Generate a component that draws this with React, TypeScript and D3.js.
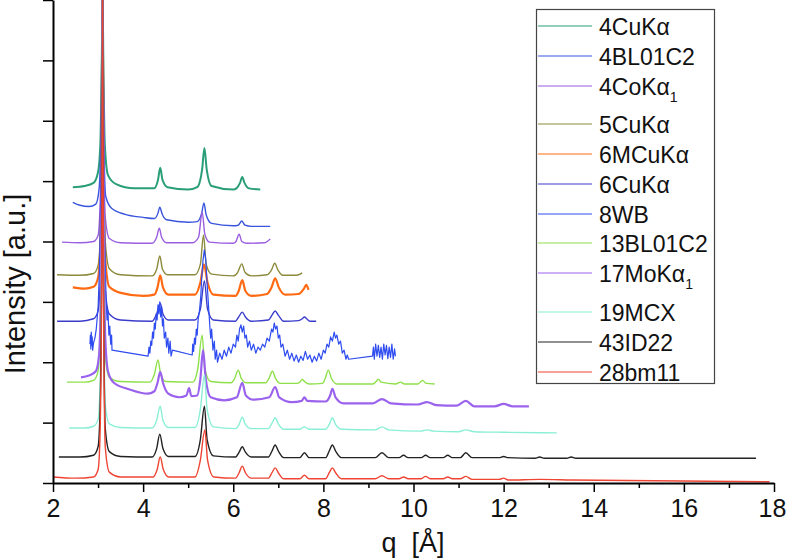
import React, { useEffect, useRef } from 'react';
import * as d3 from 'd3';

// q [Å] vs stacked intensity (1 unit = one y tick)
const cuKa4 = [
  [2.44, 4.9], [2.7, 4.92], [2.9, 4.97], [3.0, 5.15], [3.05, 5.6], [3.08, 6.8], [3.1, 8], [3.12, 6.8], [3.15, 5.6],
  [3.22, 5.1], [3.4, 4.95], [3.8, 4.88], [4.24, 4.88], [4.33, 5.02], [4.38, 5.22], [4.43, 5.02], [4.54, 4.9], [5.0, 4.86],
  [5.2, 4.9], [5.31, 5.2], [5.36, 5.55], [5.41, 5.2], [5.52, 4.92], [6.0, 4.86], [6.07, 4.88], [6.15, 4.97], [6.2, 5.07],
  [6.25, 4.97], [6.35, 4.88], [6.6, 4.86],
];
const bl01c2_4 = [
  [2.44, 4.65], [2.6, 4.6], [2.8, 4.58], [2.95, 4.62], [3.02, 4.85], [3.06, 5.6], [3.1, 8], [3.13, 5.6], [3.17, 4.75],
  [3.3, 4.55], [3.6, 4.45], [4.0, 4.4], [4.25, 4.38], [4.33, 4.47], [4.37, 4.57], [4.42, 4.46], [4.52, 4.36], [5.0, 4.32],
  [5.2, 4.33], [5.3, 4.47], [5.35, 4.64], [5.4, 4.44], [5.52, 4.3], [6.0, 4.26], [6.11, 4.27], [6.19, 4.34], [6.26, 4.27],
  [6.4, 4.25], [6.82, 4.25],
];
const coKa4 = [
  [2.2, 3.99], [2.6, 3.98], [2.9, 4.0], [3.0, 4.1], [3.04, 4.5], [3.08, 6], [3.1, 8], [3.12, 6], [3.16, 4.4], [3.25, 4.05],
  [3.5, 3.98], [4.2, 3.97], [4.3, 4.07], [4.36, 4.22], [4.41, 4.07], [4.52, 3.98], [5.1, 3.98], [5.23, 4.07], [5.31, 4.49],
  [5.37, 4.12], [5.47, 3.99], [6.0, 3.97], [6.06, 4.0], [6.13, 4.12], [6.19, 4.0], [6.3, 3.97], [6.7, 3.98], [6.82, 4.04],
];
const cuKa5 = [
  [2.09, 3.45], [2.6, 3.44], [2.9, 3.47], [3.0, 3.6], [3.05, 4.1], [3.08, 5.5], [3.1, 8], [3.12, 5.5], [3.16, 4.0],
  [3.25, 3.55], [3.5, 3.45], [4.2, 3.43], [4.3, 3.54], [4.37, 3.76], [4.43, 3.54], [4.54, 3.45], [5.15, 3.45], [5.27, 3.62],
  [5.34, 4.11], [5.4, 3.62], [5.52, 3.46], [6.0, 3.43], [6.1, 3.49], [6.19, 3.63], [6.26, 3.49], [6.4, 3.43], [6.75, 3.45],
  [6.85, 3.53], [6.92, 3.64], [6.99, 3.53], [7.1, 3.44], [7.4, 3.44], [7.53, 3.48],
];
const mCuKa6 = [
  [2.44, 3.24], [2.7, 3.22], [2.9, 3.25], [3.0, 3.4], [3.05, 3.9], [3.08, 5.5], [3.1, 8], [3.12, 5.5], [3.16, 3.7],
  [3.25, 3.25], [3.5, 3.15], [4.0, 3.1], [4.25, 3.12], [4.32, 3.24], [4.38, 3.44], [4.44, 3.24], [4.56, 3.12], [5.15, 3.12],
  [5.27, 3.32], [5.35, 3.62], [5.43, 3.32], [5.56, 3.12], [6.05, 3.1], [6.12, 3.18], [6.2, 3.36], [6.27, 3.18], [6.4, 3.1],
  [6.75, 3.13], [6.85, 3.24], [6.93, 3.39], [7.01, 3.24], [7.15, 3.12], [7.45, 3.13], [7.57, 3.22], [7.62, 3.28], [7.67, 3.2],
];
const cuKa6 = [
  [2.09, 2.68], [2.6, 2.68], [2.9, 2.72], [3.0, 2.85], [3.05, 3.4], [3.08, 5.0], [3.1, 8], [3.12, 5.0], [3.16, 3.2],
  [3.25, 2.8], [3.5, 2.7], [4.2, 2.68], [4.3, 2.8], [4.38, 2.98], [4.44, 2.8], [4.56, 2.7], [5.15, 2.7], [5.27, 2.88],
  [5.36, 3.35], [5.43, 2.88], [5.56, 2.7], [6.05, 2.68], [6.12, 2.75], [6.2, 2.83], [6.27, 2.75], [6.4, 2.68], [6.78, 2.7],
  [6.86, 2.78], [6.93, 2.85], [7.0, 2.78], [7.12, 2.68], [7.45, 2.69], [7.53, 2.72], [7.58, 2.75], [7.63, 2.72], [7.7, 2.68],
  [7.84, 2.68],
];
const wb8 = [
  [2.82, 2.3], [2.83, 2.45], [2.84, 2.22], [2.85, 2.5], [2.86, 2.28], [2.87, 2.42], [2.88, 2.2], [2.9, 2.32], [2.93, 2.4],
  [2.96, 2.55], [3.0, 2.9], [3.03, 3.5], [3.06, 4.8], [3.08, 6.5], [3.1, 8], [3.12, 6.5], [3.14, 4.5], [3.16, 3.6],
  [3.18, 3.0], [3.2, 2.7], [3.22, 2.85], [3.24, 2.45], [3.26, 2.6], [3.28, 2.3], [3.3, 2.45], [3.31, 2.2],
  [4.11, 2.1], [4.13, 2.25], [4.15, 2.15], [4.17, 2.35], [4.19, 2.28], [4.21, 2.5], [4.23, 2.4], [4.25, 2.65], [4.27, 2.55],
  [4.29, 2.8], [4.31, 2.7], [4.33, 2.95], [4.35, 2.8], [4.37, 3.0], [4.39, 2.75], [4.41, 2.92], [4.43, 2.6], [4.45, 2.72],
  [4.47, 2.4], [4.5, 2.5], [4.52, 2.25], [4.55, 2.4], [4.57, 2.15], [4.6, 2.35], [4.62, 2.1], [4.65, 2.2],
  [5.09, 2.12], [5.1, 2.3], [5.12, 2.18], [5.14, 2.4], [5.16, 2.3], [5.18, 2.55], [5.2, 2.45], [5.22, 2.7], [5.25, 2.85],
  [5.28, 3.1], [5.3, 3.4], [5.33, 3.7], [5.36, 3.86], [5.39, 3.7], [5.42, 3.3], [5.45, 2.95], [5.48, 2.6], [5.5, 2.4],
  [5.52, 2.55], [5.55, 2.2], [5.58, 2.35], [5.6, 2.05], [5.63, 2.2], [5.65, 2.0], [5.7, 2.15], [5.75, 2.05], [5.8, 2.2],
  [5.85, 2.1], [5.9, 2.25], [5.95, 2.15], [6.0, 2.3], [6.05, 2.25], [6.08, 2.45], [6.11, 2.35], [6.14, 2.55], [6.17, 2.62],
  [6.2, 2.5], [6.23, 2.6], [6.26, 2.4], [6.29, 2.45], [6.32, 2.25], [6.36, 2.35], [6.4, 2.2], [6.45, 2.3], [6.5, 2.15],
  [6.55, 2.25], [6.6, 2.2], [6.65, 2.3], [6.7, 2.25], [6.75, 2.4], [6.8, 2.35], [6.85, 2.55], [6.88, 2.5], [6.91, 2.65],
  [6.94, 2.55], [6.97, 2.6], [7.0, 2.4], [7.03, 2.45], [7.06, 2.25], [7.1, 2.3], [7.15, 2.1], [7.2, 2.2], [7.25, 2.05],
  [7.3, 2.15], [7.35, 2.02], [7.4, 2.12], [7.45, 2.0], [7.5, 2.1], [7.55, 2.03], [7.6, 2.18], [7.65, 2.05], [7.7, 2.12],
  [7.75, 2.0], [7.8, 2.1], [7.85, 2.02], [7.9, 2.15], [7.95, 2.05], [8.0, 2.2], [8.04, 2.15], [8.08, 2.3], [8.12, 2.25],
  [8.16, 2.42], [8.2, 2.35], [8.24, 2.5], [8.27, 2.4], [8.3, 2.45], [8.34, 2.3], [8.38, 2.35], [8.42, 2.15], [8.46, 2.2],
  [8.5, 2.05], [8.53, 2.12], [8.56, 2.05],
  [9.09, 2.1], [9.11, 2.25], [9.13, 2.05], [9.16, 2.3], [9.19, 2.1], [9.22, 2.28], [9.25, 2.08], [9.28, 2.25], [9.31, 2.05],
  [9.34, 2.3], [9.37, 2.12], [9.4, 2.28], [9.43, 2.06], [9.46, 2.25], [9.49, 2.08], [9.52, 2.3], [9.55, 2.05], [9.58, 2.22],
  [9.6, 2.1],
];
const bl01c2_13 = [
  [2.31, 1.67], [2.7, 1.67], [2.9, 1.7], [3.0, 1.85], [3.04, 2.4], [3.08, 4.5], [3.1, 8], [3.12, 4.5], [3.16, 2.1],
  [3.25, 1.75], [3.5, 1.68], [4.15, 1.67], [4.25, 1.8], [4.33, 2.04], [4.39, 1.8], [4.5, 1.68], [5.1, 1.67], [5.21, 1.88],
  [5.31, 2.45], [5.37, 1.88], [5.5, 1.68], [5.95, 1.66], [6.03, 1.73], [6.11, 1.87], [6.18, 1.73], [6.3, 1.66],
  [6.72, 1.66], [6.79, 1.73], [6.87, 1.85], [6.94, 1.73], [7.05, 1.65], [7.42, 1.65], [7.49, 1.68], [7.53, 1.72],
  [7.58, 1.68], [7.68, 1.64], [7.98, 1.65], [8.04, 1.73], [8.11, 1.87], [8.18, 1.73], [8.3, 1.64], [9.1, 1.64],
  [9.17, 1.68], [9.22, 1.72], [9.28, 1.67], [9.6, 1.64], [9.71, 1.67], [9.8, 1.64], [10.1, 1.64], [10.2, 1.7],
  [10.28, 1.65], [10.47, 1.64],
];
const moKa17 = [
  [2.62, 1.75], [2.8, 1.78], [2.95, 1.85], [3.02, 2.1], [3.06, 3.0], [3.09, 5.5], [3.1, 8], [3.12, 5.0], [3.16, 2.4],
  [3.22, 1.85], [3.35, 1.66], [3.7, 1.55], [4.1, 1.48], [4.25, 1.52], [4.32, 1.66], [4.38, 1.84], [4.44, 1.66], [4.56, 1.48],
  [4.8, 1.42], [4.96, 1.45], [5.02, 1.57], [5.07, 1.44], [5.2, 1.45], [5.27, 1.72], [5.33, 2.2], [5.39, 1.72], [5.5, 1.42],
  [5.8, 1.37], [6.08, 1.42], [6.2, 1.66], [6.28, 1.45], [6.45, 1.38], [6.8, 1.42], [6.93, 1.59], [7.02, 1.42], [7.3, 1.34],
  [7.52, 1.36], [7.58, 1.42], [7.64, 1.36], [8.05, 1.35], [8.15, 1.45], [8.2, 1.56], [8.27, 1.42], [8.45, 1.32], [9.1, 1.32],
  [9.3, 1.39], [9.5, 1.32], [10.1, 1.3], [10.3, 1.34], [10.5, 1.29], [10.95, 1.28], [11.16, 1.36], [11.35, 1.27],
  [11.8, 1.27], [12.0, 1.31], [12.2, 1.27], [12.56, 1.27],
];
const mcx19 = [
  [2.36, 0.91], [2.7, 0.91], [2.9, 0.94], [3.0, 1.05], [3.04, 1.5], [3.08, 4.0], [3.1, 8], [3.12, 4.0], [3.16, 1.3],
  [3.25, 0.98], [3.5, 0.92], [4.2, 0.91], [4.3, 1.04], [4.38, 1.27], [4.44, 1.04], [4.56, 0.92], [5.15, 0.92], [5.27, 1.22],
  [5.36, 1.79], [5.42, 1.22], [5.56, 0.93], [6.05, 0.9], [6.13, 0.97], [6.2, 1.09], [6.27, 0.97], [6.4, 0.9], [6.78, 0.9],
  [6.86, 0.99], [6.93, 1.08], [7.0, 0.98], [7.12, 0.89], [7.48, 0.89], [7.58, 0.93], [7.68, 0.89], [8.05, 0.89],
  [8.13, 0.97], [8.2, 1.08], [8.27, 0.97], [8.4, 0.89], [9.15, 0.88], [9.3, 0.93], [9.45, 0.88], [10.15, 0.86],
  [10.3, 0.88], [10.45, 0.86], [11.0, 0.85], [11.16, 0.88], [11.35, 0.85], [12.0, 0.84], [13.18, 0.83],
];
const id22_43 = [
  [2.13, 0.43], [2.6, 0.43], [2.9, 0.46], [3.0, 0.6], [3.04, 1.1], [3.08, 3.5], [3.1, 8], [3.12, 3.5], [3.16, 0.9],
  [3.25, 0.52], [3.5, 0.44], [4.2, 0.43], [4.3, 0.57], [4.37, 0.81], [4.44, 0.57], [4.56, 0.44], [5.15, 0.44], [5.27, 0.72],
  [5.36, 1.27], [5.42, 0.72], [5.56, 0.45], [6.05, 0.43], [6.13, 0.51], [6.2, 0.6], [6.27, 0.51], [6.4, 0.43], [6.78, 0.43],
  [6.86, 0.53], [6.93, 0.63], [7.0, 0.53], [7.12, 0.42], [7.48, 0.42], [7.58, 0.5], [7.68, 0.42], [8.05, 0.42],
  [8.13, 0.53], [8.2, 0.63], [8.27, 0.53], [8.4, 0.42], [9.15, 0.42], [9.3, 0.5], [9.45, 0.42], [9.68, 0.42], [9.78, 0.46],
  [9.88, 0.42], [10.17, 0.42], [10.27, 0.46], [10.37, 0.42], [10.66, 0.42], [10.76, 0.46], [10.86, 0.42], [11.04, 0.42],
  [11.16, 0.5], [11.3, 0.42], [11.9, 0.42], [12.0, 0.44], [12.1, 0.42], [12.7, 0.41], [12.8, 0.43], [12.9, 0.41],
  [13.4, 0.41], [13.5, 0.43], [13.6, 0.41], [17.6, 0.41],
];
const bm11_28 = [
  [2.0, 0.1], [2.5, 0.08], [2.9, 0.1], [3.0, 0.22], [3.04, 0.7], [3.08, 3.2], [3.1, 8], [3.12, 3.2], [3.16, 0.6],
  [3.25, 0.18], [3.5, 0.1], [4.22, 0.1], [4.31, 0.22], [4.38, 0.43], [4.45, 0.22], [4.57, 0.1], [5.15, 0.1], [5.27, 0.38],
  [5.37, 0.88], [5.43, 0.38], [5.57, 0.1], [6.05, 0.08], [6.13, 0.17], [6.2, 0.28], [6.27, 0.17], [6.4, 0.08],
  [6.78, 0.08], [6.86, 0.17], [6.93, 0.25], [7.0, 0.17], [7.12, 0.07], [7.48, 0.07], [7.58, 0.13], [7.68, 0.07],
  [8.05, 0.07], [8.13, 0.17], [8.2, 0.25], [8.27, 0.17], [8.4, 0.07], [9.15, 0.07], [9.3, 0.12], [9.45, 0.07],
  [9.68, 0.07], [9.78, 0.1], [9.88, 0.07], [10.17, 0.07], [10.27, 0.11], [10.37, 0.07], [10.66, 0.07], [10.76, 0.1],
  [10.86, 0.07], [11.04, 0.07], [11.16, 0.11], [11.3, 0.06], [11.9, 0.06], [12.0, 0.08], [12.1, 0.05], [12.8, 0.06],
  [13.5, 0.05], [17.9, 0.02],
];

const names = ['4CuKα', '4BL01C2', '4CoKα', '5CuKα', '6MCuKα', '6CuKα', '8WB', '13BL01C2', '17MoKα', '19MCX', '43ID22', '28bm11'];
const subs = ['', '', '1', '', '', '', '', '', '1', '', '', ''];
const colors = ['#2a9e78', '#3a55dd', '#9a5ee0', '#8c8a3c', '#ff6a12', '#3a3ccc', '#2e4cf0', '#8ee04a', '#9b62ee', '#8aefd6', '#222222', '#ee4433'];
const widths = [2, 1.4, 1.4, 1.4, 2.2, 1.4, 1.2, 1.4, 2.2, 1.4, 1.4, 1.4];
const series = [cuKa4, bl01c2_4, coKa4, cuKa5, mCuKa6, cuKa6, wb8, bl01c2_13, moKa17, mcx19, id22_43, bm11_28];
const legendRows = [26, 56, 86, 124, 154, 184, 214, 243, 273, 312, 342, 372];

const W = 787, H = 559;
const x = d3.scaleLinear().domain([2, 18]).range([53, 774]);
const y = d3.scaleLinear().domain([0, 8]).range([483, 0]);
const font = 'Liberation Sans, Arial, sans-serif';

export default function App() {
  const xRef = useRef<SVGGElement>(null);
  const yRef = useRef<SVGGElement>(null);

  useEffect(() => {
    const gx = d3.select(xRef.current);
    gx.selectAll('*').remove();
    gx.call(d3.axisBottom(x).tickValues(d3.range(2, 19, 1)).tickSize(8).tickSizeOuter(0)
      .tickFormat((d: any) => (d % 2 === 0 ? String(d) : '')));
    gx.select('.domain').attr('stroke-width', 2).attr('stroke', '#000');
    gx.selectAll('.tick line').attr('stroke-width', 1.5).attr('y2', (d: any) => (d % 2 === 0 ? 9 : 5));
    gx.selectAll('.tick text').attr('font-size', 25).attr('font-family', font)
      .attr('fill', '#111').attr('dy', '0.92em')
      .attr('dx', (d: any) => (d === 18 ? -2 : 0));

    const gy = d3.select(yRef.current);
    gy.selectAll('*').remove();
    gy.call(d3.axisLeft(y).tickValues(d3.range(0, 9)).tickSize(10).tickSizeOuter(0).tickFormat(() => ''));
    gy.select('.domain').attr('stroke-width', 2).attr('stroke', '#000');
    gy.selectAll('.tick line').attr('stroke-width', 1.5);
  }, []);

  const smooth = d3.line<number[]>().x(d => x(d[0])).y(d => y(d[1])).curve(d3.curveMonotoneX);
  const straight = d3.line<number[]>().x(d => x(d[0])).y(d => y(d[1]));

  return (
    <svg width={W} height={H} style={{ position: 'absolute', left: 0, top: 0, background: '#fff' }}>
      <defs>
        <clipPath id="plot"><rect x={53} y={0} width={721} height={483} /></clipPath>
      </defs>
      <g clipPath="url(#plot)">
        {series.map((s, i) => (
          <path key={names[i]} d={(i === 6 ? straight : smooth)(s) || ''} fill="none"
            stroke={colors[i]} strokeWidth={widths[i]} strokeLinejoin="round" />
        ))}
      </g>
      <g ref={xRef} transform="translate(0,483)" />
      <g ref={yRef} transform="translate(53,0)" />

      <text transform="translate(25,284) rotate(-90)" textAnchor="middle" fontSize={29}
        fontFamily={font} fill="#111">Intensity [a.u.]</text>
      <text x={413} y={552} textAnchor="middle" fontSize={27} fontFamily={font}
        fill="#111" xmlSpace="preserve">q  [Å]</text>

      <g fontFamily={font}>
        <rect x={536.5} y={9.5} width={178} height={374} fill="#fff" stroke="#444" strokeWidth={1.2} />
        {names.map((n, i) => (
          <g key={n}>
            <line x1={538} x2={592} y1={legendRows[i]} y2={legendRows[i]} stroke={colors[i]} strokeWidth={1.2} />
            <text x={599} y={legendRows[i] + 9} fontSize={23} fill="#111">
              {n}
              {subs[i] && <tspan fontSize={14} dy={7}>{subs[i]}</tspan>}
            </text>
          </g>
        ))}
      </g>
    </svg>
  );
}
